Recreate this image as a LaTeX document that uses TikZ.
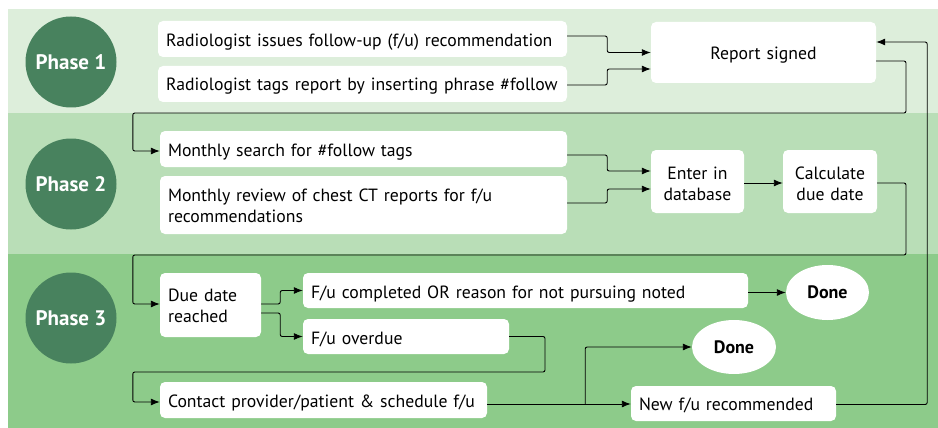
\documentclass[tikz,border=0pt]{standalone}
\usepackage{fontspec}
\setmainfont{PT Sans}
\usetikzlibrary{arrows.meta,shapes.geometric,calc}
\definecolor{bandA}{HTML}{DDEEDB}
\definecolor{bandB}{HTML}{B9DEB7}
\definecolor{bandC}{HTML}{8DCB8A}
\definecolor{phasegreen}{HTML}{48825E}
\begin{document}
\begin{tikzpicture}[x=1pt,y=-1pt,
  phase/.style={circle,fill=phasegreen,minimum size=91pt,inner sep=0pt,text=white,font=\fontsize{21}{24}\selectfont\bfseries},
  box/.style={fill=white,rounded corners=5pt,inner xsep=8pt,inner ysep=0pt,font=\fontsize{17.7}{21}\selectfont,text=black},
  lbox/.style args={#1x#2}{box,minimum width=#1pt,text width=#1pt-16pt,align=left,tb/.expanded=#2},
  cbox/.style args={#1x#2}{box,minimum width=#1pt,text width=#1pt-16pt,align=center,tb/.expanded=#2},
  tb/.style args={#1/#2}{text height=#1pt,text depth=#2pt},
  done/.style={ellipse,fill=white,inner sep=0pt,font=\fontsize{18}{20}\selectfont\bfseries},
  arr/.style={draw=black,line width=0.9pt,rounded corners=2pt,-{Latex[length=9pt,width=7pt]}}]
\useasboundingbox (0,0) rectangle (938,428);
\fill[bandA] (8,9) rectangle (938,113);
\fill[bandB] (8,113) rectangle (938,254);
\fill[bandC] (8,254) rectangle (938,428);
% phases
\node[phase] (p1) at (71,62) {Phase 1};
\node[phase] (p2) at (71,184) {Phase 2};
\node[phase] (p3) at (71,318) {Phase 3};
% phase 1
\node[lbox=409x25.7/10.3] (A) at (362.5,39) {Radiologist issues follow-up (f/u) recommendation};
\node[lbox=409x25/11] (B) at (362.5,84) {Radiologist tags report by inserting phrase \#follow};
\node[cbox=225x38/23] (R) at (763.5,52.5) {Report signed};
% phase 2
\node[lbox=407x25/11] (C) at (363.5,149) {Monthly search for \#follow tags};
\node[lbox=407x25.7/32.3] (D) at (363.5,205) {Monthly review of chest CT reports for f/u\\recommendations};
\node[cbox=93x29/34] (E) at (697.5,181.5) {Enter in\\database};
\node[cbox=94x29/34] (F) at (830,181.5) {Calculate\\due date};
% phase 3
\node[lbox=101x28/36] (G) at (210.5,305) {Due date\\reached};
\node[lbox=445x25.3/9.7] (H) at (525.5,290.5) {F/u completed OR reason for not pursuing noted};
\node[lbox=206x25.3/9.7] (I) at (406,336.5) {F/u overdue};
\node[lbox=327x25.7/10.3] (J) at (323.5,400) {Contact provider/patient \& schedule f/u};
\node[lbox=205x24.5/10.5] (K) at (733.5,403.5) {New f/u recommended};
\node[done,minimum width=83pt,minimum height=55pt] (D1) at (827.5,292.5) {Done};
\node[done,minimum width=84pt,minimum height=54pt] (D2) at (734,347) {Done};
% connectors
\draw[arr] ($(A.east)+(0,-3)$) -- ++(40,0) |- (R.west);
\draw[arr] ($(B.east)+(0,1)$) -- ++(40,0) |- ($(R.west)+(0,16.5)$);
\draw[arr] ($(R.east)+(0,8.5)$) -| (906,113) -| ($(C.west)+(-27,2)$) -- ($(C.west)+(0,2)$);
\draw[arr] ($(C.east)+(0,6)$) -- ++(40,0) |- ($(E.west)+(0,-10.5)$);
\draw[arr] ($(D.east)+(0,-2)$) -- ++(40,0) |- ($(E.west)+(0,7.5)$);
\draw[arr] ($(E.east)+(0,1.5)$) -- ($(F.west)+(0,1.5)$);
\draw[arr] ($(F.east)+(0,1.5)$) -| (906,255) -| ($(G.west)+(-27,-1)$) -- ($(G.west)+(0,-1)$);
\draw[arr] ($(G.east)+(0,-1)$) -- ++(19,0) |- (H.west);
\draw[arr] ($(G.east)+(0,8)$) -- ++(19,0) |- (I.west);
\draw[arr] ($(H.east)+(0,2)$) -- (D1.west);
\draw[arr] (I.east) -| (545,372) -| ($(J.west)+(-27,2)$) -- ($(J.west)+(0,2)$);
\coordinate (br) at ($(J.east)+(98,4)$);
\draw[arr] ($(J.east)+(0,4)$) -- ($(K.west)+(0,0.5)$);
\draw[arr] (br) |- (D2.west);
\draw[arr] ($(K.east)+(0,1)$) -| ($(R.east)+(51,-10.5)$) -- ($(R.east)+(0,-10.5)$);
\end{tikzpicture}
\end{document}
